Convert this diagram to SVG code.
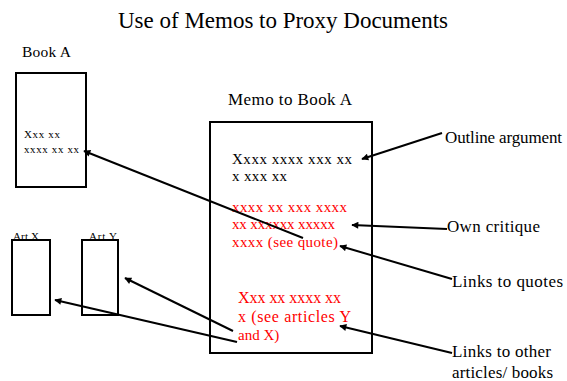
<svg xmlns="http://www.w3.org/2000/svg" width="567" height="381" viewBox="0 0 567 381">
<style>
.box{fill:#fff;stroke:#000;stroke-width:2}
.red{fill:#ff0000}
.c line{stroke:#000;stroke-width:2;marker-end:url(#ah)}
</style>
<defs>
<marker id="ah" viewBox="0 0 10 10" refX="9" refY="5" markerWidth="4" markerHeight="3.5" orient="auto" markerUnits="strokeWidth">
<path d="M0,0 L10,5 L0,10 z" fill="#000"/>
</marker>
</defs>
<rect width="567" height="381" fill="#fff"/>
<g font-family="Liberation Serif, DejaVu Serif, serif" fill="#000">
<text x="118" y="28" font-size="23" textLength="330">Use of Memos to Proxy Documents</text>
<g id="bookA">
<text x="22" y="57" font-size="15.5" textLength="49">Book A</text>
<rect class="box" x="16" y="73" width="70" height="114"/>
<text x="24" y="138" font-size="11" textLength="36">Xxx xx</text>
<text x="24" y="153" font-size="11" textLength="55">xxxx xx xx</text>
</g>
<g id="artX">
<rect class="box" x="12" y="240" width="38" height="75"/>
<text x="13" y="240" font-size="11" textLength="26">Art X</text>
</g>
<g id="artY">
<rect class="box" x="82" y="240" width="36" height="75"/>
<text x="89" y="240" font-size="11" textLength="28">Art Y</text>
</g>
<g id="memo">
<text x="228" y="105" font-size="17" textLength="124">Memo to Book A</text>
<rect class="box" x="210" y="122" width="162" height="231"/>
<text x="232" y="164" font-size="15" textLength="120">Xxxx xxxx xxx xx</text>
<text x="232" y="181" font-size="15" textLength="55">x xxx xx</text>
<text class="red" x="232" y="212" font-size="15" textLength="115">xxxx xx xxx xxxx</text>
<text class="red" x="232" y="229" font-size="15" textLength="103">xx xxxxxx xxxxx</text>
<text class="red" x="232" y="247" font-size="15" textLength="106">xxxx (see quote)</text>
<text class="red" x="238" y="303" font-size="16" textLength="103">Xxx xx xxxx xx</text>
<text class="red" x="238" y="322" font-size="16" textLength="113">x (see articles Y</text>
<text class="red" x="238" y="340" font-size="15">and X)</text>
</g>
<g id="labels">
<text x="445" y="143" font-size="17" textLength="117">Outline argument</text>
<text x="447" y="232" font-size="17" textLength="93">Own critique</text>
<text x="452" y="287" font-size="17" textLength="111">Links to quotes</text>
<text x="452" y="357" font-size="17" textLength="99">Links to other</text>
<text x="452" y="378" font-size="17" textLength="101">articles/ books</text>
</g>
</g>
<g class="c" id="connectors">
<line x1="442" y1="133" x2="362" y2="159"/>
<line x1="447" y1="229" x2="352" y2="225"/>
<line x1="452" y1="279" x2="340" y2="246"/>
<line x1="452" y1="353" x2="340" y2="326"/>
<line x1="303" y1="238" x2="84" y2="151"/>
<line x1="237" y1="342" x2="55" y2="300"/>
<line x1="233" y1="331" x2="125" y2="278"/>
</g>
</svg>
